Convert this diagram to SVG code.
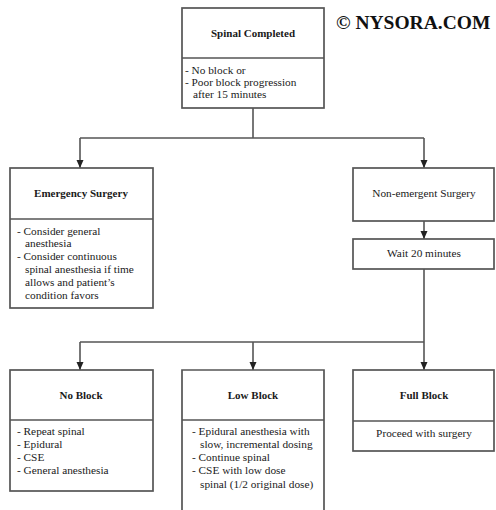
<svg xmlns="http://www.w3.org/2000/svg" width="496" height="510" viewBox="0 0 496 510">
<style>
.box{fill:#fff;stroke:#555;stroke-width:1.7}
.div{stroke:#555;stroke-width:1.7}
.ln{fill:none;stroke:#555;stroke-width:1.6}
text{font-family:"Liberation Serif","Times New Roman",serif;font-size:11.3px;fill:#1a1a1a}
.t{font-weight:bold;text-anchor:middle;font-size:11px}
.c{text-anchor:middle}
.logo{font-weight:bold;font-size:19.5px;fill:#111}
</style>
<defs>
<marker id="ah" viewBox="0 0 8 8" refX="8" refY="4" markerWidth="8" markerHeight="8" markerUnits="userSpaceOnUse" orient="auto">
<path d="M0,0.5 L8,4 L0,7.5 Z" fill="#222"/>
</marker>
</defs>
<rect width="496" height="510" fill="#fff"/>
<text class="logo" x="336" y="29">© NYSORA.COM</text>
<g id="connectors">
<path class="ln" d="M253,108 V138"/>
<path class="ln" d="M80,138 H424"/>
<path class="ln" d="M80,138 V168" marker-end="url(#ah)"/>
<path class="ln" d="M424,138 V168" marker-end="url(#ah)"/>
<path class="ln" d="M424,221 V239" marker-end="url(#ah)"/>
<path class="ln" d="M424,269 V342"/>
<path class="ln" d="M80,342 H424"/>
<path class="ln" d="M80,342 V370" marker-end="url(#ah)"/>
<path class="ln" d="M253,342 V370" marker-end="url(#ah)"/>
<path class="ln" d="M424,342 V370" marker-end="url(#ah)"/>
</g>
<g id="spinal-completed">
<rect class="box" x="182" y="8" width="142" height="100"/>
<line class="div" x1="182" y1="58" x2="324" y2="58"/>
<text class="t" x="253" y="37">Spinal Completed</text>
<text x="185" y="74">- No block  or</text>
<text x="185" y="86">- Poor block progression</text>
<text x="193" y="98">after 15 minutes</text>
</g>
<g id="emergency-surgery">
<rect class="box" x="10" y="168" width="143" height="140"/>
<line class="div" x1="10" y1="219" x2="153" y2="219"/>
<text class="t" x="81" y="197">Emergency Surgery</text>
<text x="17" y="235">- Consider general</text>
<text x="25" y="247">anesthesia</text>
<text x="17" y="260">- Consider continuous</text>
<text x="25" y="273">spinal anesthesia if time</text>
<text x="25" y="286">allows and patient’s</text>
<text x="25" y="299">condition favors</text>
</g>
<g id="non-emergent-surgery">
<rect class="box" x="353" y="168" width="141" height="53"/>
<text class="c" x="424" y="197">Non-emergent Surgery</text>
</g>
<g id="wait">
<rect class="box" x="353" y="239" width="141" height="30"/>
<text class="c" x="424" y="257">Wait 20 minutes</text>
</g>
<g id="no-block">
<rect class="box" x="10" y="370" width="143" height="121"/>
<line class="div" x1="10" y1="420" x2="153" y2="420"/>
<text class="t" x="81" y="399">No Block</text>
<text x="17" y="435">- Repeat spinal</text>
<text x="17" y="448">- Epidural</text>
<text x="17" y="461">- CSE</text>
<text x="17" y="474">- General anesthesia</text>
</g>
<g id="low-block">
<path class="box" d="M182,512 V370 H324 V512"/>
<line class="div" x1="182" y1="420" x2="324" y2="420"/>
<text class="t" x="253" y="399">Low Block</text>
<text x="192" y="435">- Epidural anesthesia with</text>
<text x="200" y="448">slow, incremental dosing</text>
<text x="192" y="461">- Continue spinal</text>
<text x="192" y="474">- CSE with low dose</text>
<text x="200" y="488">spinal (1/2 original dose)</text>
</g>
<g id="full-block">
<rect class="box" x="353" y="370" width="141" height="81"/>
<line class="div" x1="353" y1="421" x2="494" y2="421"/>
<text class="t" x="424" y="399">Full Block</text>
<text class="c" x="424" y="437">Proceed with surgery</text>
</g>
</svg>
